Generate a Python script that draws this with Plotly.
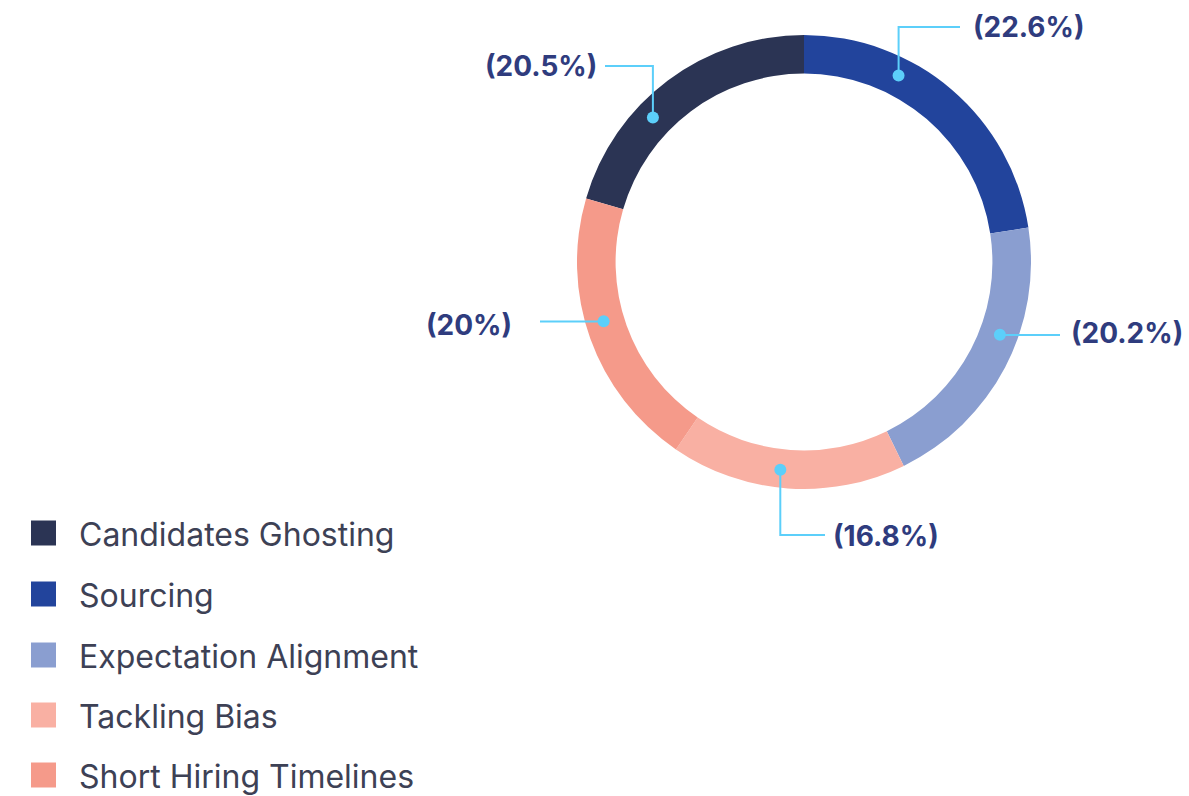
import math
import plotly.graph_objects as go

# ---- data ----
categories = ["Candidates Ghosting", "Sourcing", "Expectation Alignment", "Tackling Bias", "Short Hiring Timelines"]
values = [20.5, 22.6, 20.2, 16.8, 20.0]
value_labels = ["(20.5%)", "(22.6%)", "(20.2%)", "(16.8%)", "(20%)"]
colors = ["#2b3454", "#22449c", "#8a9ed0", "#f9b0a3", "#f59a8a"]

# ---- layout config (pixels) ----
W, H = 1189, 796
CX, CY, R = 804, 262, 227
HOLE = 0.83
R_MID = 209
label_angles = [-46.3, 26.9, 110.4, 186.5, 253.5]  # leader dot angle, deg clockwise from top
label_layout = [
    dict(path=[("v", 66), ("h", 605)], tx=599, anchor="right", ty=66),
    dict(path=[("v", 27), ("h", 960)], tx=971, anchor="left", ty=27),
    dict(path=[("h", 1060)], tx=1069, anchor="left", ty=333),
    dict(path=[("v", 535), ("h", 825)], tx=831, anchor="left", ty=536),
    dict(path=[("h", 540)], tx=514, anchor="right", ty=325),
]
LINE_COLOR = "#5ccffa"
LABEL_COLOR = "#2f3c7e"
LEGEND_TEXT = "#3d4155"
LABEL_FONT = "Inter"
LEGEND_FONT = "Inter"

total = sum(values)
rotation = -values[0] / total * 360.0

fig = go.Figure()

fig.add_trace(go.Pie(
    labels=categories, values=values, sort=False, direction="clockwise",
    rotation=rotation, hole=HOLE, marker=dict(colors=colors, line=dict(width=0)),
    textinfo="none", hoverinfo="label+percent", showlegend=False,
    domain=dict(x=[(CX - R) / W, (CX + R) / W], y=[(H - CY - R) / H, (H - CY + R) / H]),
))

shapes = []
annotations = []
for ang, lay, txt in zip(label_angles, label_layout, value_labels):
    a = math.radians(ang)
    dx, dy = CX + R_MID * math.sin(a), CY - R_MID * math.cos(a)
    pts = [(dx, dy)]
    cx_, cy_ = dx, dy
    for kind, v in lay["path"]:
        if kind == "v":
            cy_ = v
        else:
            cx_ = v
        pts.append((cx_, cy_))
    path = "M " + " L ".join(f"{px:.1f},{py:.1f}" for px, py in pts)
    shapes.append(dict(type="path", path=path, xref="x", yref="y", layer="above",
                       line=dict(color=LINE_COLOR, width=2)))
    shapes.append(dict(type="circle", xref="x", yref="y", layer="above",
                       x0=dx - 6, x1=dx + 6, y0=dy - 6, y1=dy + 6,
                       fillcolor=LINE_COLOR, line=dict(width=0)))
    annotations.append(dict(x=lay["tx"], y=lay["ty"], xref="x", yref="y", text=f"<b>{txt}</b>",
                            showarrow=False, xanchor=lay["anchor"], yanchor="middle",
                            font=dict(family=LABEL_FONT, size=28, color=LABEL_COLOR)))

# legend
leg_y = [533, 594, 655, 715, 775]
fig.add_trace(go.Scatter(x=[43.5] * len(categories), y=leg_y, mode="markers",
                         marker=dict(symbol="square", size=25, color=colors, line=dict(width=0)),
                         hoverinfo="skip", showlegend=False))
for y, name in zip(leg_y, categories):
    annotations.append(dict(x=77, y=y + 1, xref="x", yref="y", text=name, showarrow=False,
                            xanchor="left", yanchor="middle",
                            font=dict(family=LEGEND_FONT, size=32, color=LEGEND_TEXT)))

fig.update_layout(
    width=W, height=H, margin=dict(l=0, r=0, t=0, b=0),
    paper_bgcolor="white", plot_bgcolor="rgba(0,0,0,0)",
    xaxis=dict(range=[0, W], visible=False, fixedrange=True),
    yaxis=dict(range=[H, 0], visible=False, fixedrange=True),
    annotations=annotations, shapes=shapes, showlegend=False,
)

fig.write_html("out.html", config={"displayModeBar": False},
               post_script="document.body.style.margin='0';document.body.style.overflow='hidden';")
